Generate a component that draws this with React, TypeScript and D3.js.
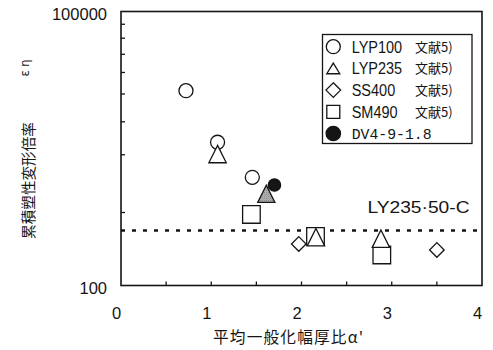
import React from "react";
import * as d3 from "d3";

// Series values: x = mean normalized width-thickness ratio, y = cumulative plastic deformation ratio
const lyp100 = [
  { x: 0.72, y: 13600 },
  { x: 1.07, y: 3700 },
  { x: 1.455, y: 1530 },
];
const lyp235 = [
  { x: 1.07, y: 2750 },
  { x: 2.16, y: 338 },
  { x: 2.88, y: 325 },
];
const lyp235Shaded = [{ x: 1.61, y: 1010 }];
const ss400 = [
  { x: 1.97, y: 285 },
  { x: 3.5, y: 245 },
];
const sm490 = [
  { x: 1.445, y: 600 },
  { x: 2.155, y: 344 },
  { x: 2.89, y: 216 },
];
const dv4 = [{ x: 1.7, y: 1260 }];

const referenceLevel = 400;
const referenceLabel = "LY235·50-C";

const xTicks = [0, 1, 2, 3, 4];
const xMinorTicks = [0.5, 1, 1.5, 2, 2.5, 3, 3.5];
const yTickLabels = [100, 100000];
const yMinorTicks = [630, 2700, 6200, 12500, 21500, 34000, 51000, 72500];

const legendNames = ["LYP100", "LYP235", "SS400", "SM490", "DV4-9-1.8"];
const legendRefs = ["文献5)", "文献5)", "文献5)", "文献5)", ""];
const legendShapes = ["circle", "triangle", "diamond", "square", "dot"];

const W = 493;
const H = 350;
const m = { left: 121, right: 482, top: 11.5, bottom: 285.5 };

const x = d3.scaleLinear().domain([0, 4]).range([m.left, m.right]);
const y = d3.scaleLog().domain([100, 100000]).range([m.bottom, m.top]);

const INK = "#151515";

function shapePath(shape: string, s: number): string {
  const p = d3.path();
  if (shape === "triangle") {
    p.moveTo(0, -s);
    p.lineTo(s, s);
    p.lineTo(-s, s);
    p.closePath();
  } else if (shape === "square") {
    p.rect(-s, -s, 2 * s, 2 * s);
  } else if (shape === "diamond") {
    p.moveTo(0, -s);
    p.lineTo(s, 0);
    p.lineTo(0, s);
    p.lineTo(-s, 0);
    p.closePath();
  } else {
    p.arc(0, 0, s, 0, Math.PI * 2);
    p.closePath();
  }
  return p.toString();
}

function Marks({
  data,
  shape,
  size,
  fill,
}: {
  data: { x: number; y: number }[];
  shape: string;
  size: number;
  fill: string;
}) {
  return (
    <g>
      {data.map((d, i) => (
        <path
          key={i}
          d={shapePath(shape, size)}
          transform={`translate(${x(d.x)},${y(d.y)})`}
          fill={fill}
          stroke={INK}
          strokeWidth={1.3}
        />
      ))}
    </g>
  );
}

export default function App() {
  const legendX = 322.5;
  const legendY = 34.5;
  const rowY = (i: number) => 46.7 + i * 21.7;
  const legendSymbolSize: Record<string, number> = {
    circle: 7,
    triangle: 6.5,
    diamond: 7.3,
    square: 6.5,
    dot: 7.2,
  };

  return (
    <svg
      width={W}
      height={H}
      style={{ position: "absolute", left: 0, top: 0, background: "#fff" }}
    >
      <defs>
        <pattern id="halftone" width={2} height={2} patternUnits="userSpaceOnUse">
          <rect width={2} height={2} fill="#e2e2e2" />
          <rect width={1} height={1} fill="#444" />
          <rect x={1} y={1} width={1} height={1} fill="#8a8a8a" />
        </pattern>
      </defs>

      {/* plot frame */}
      <rect
        x={m.left}
        y={m.top}
        width={m.right - m.left}
        height={m.bottom - m.top}
        fill="none"
        stroke={INK}
        strokeWidth={1.6}
      />

      {/* y minor ticks (inward) */}
      {yMinorTicks.map((t) => (
        <line
          key={t}
          x1={m.left}
          x2={m.left + 4}
          y1={y(t)}
          y2={y(t)}
          stroke={INK}
          strokeWidth={1.3}
        />
      ))}
      {/* x ticks (inward) */}
      {xMinorTicks.map((t) => (
        <line
          key={t}
          x1={x(t)}
          x2={x(t)}
          y1={m.bottom}
          y2={m.bottom - 4}
          stroke={INK}
          strokeWidth={1.3}
        />
      ))}

      {/* tick labels */}
      <g fontFamily="'Liberation Sans', Arial, sans-serif" fontSize={16.5} fill={INK}>
        {yTickLabels.map((t) => (
          <text key={t} x={107} y={y(t) + 8.5} textAnchor="end">
            {t}
          </text>
        ))}
        {xTicks.map((t) => (
          <text key={t} x={x(t) - 4.5} y={318.5} textAnchor="middle">
            {t}
          </text>
        ))}
      </g>

      {/* reference level */}
      <line
        x1={m.left}
        x2={m.right}
        y1={y(referenceLevel)}
        y2={y(referenceLevel)}
        stroke={INK}
        strokeWidth={2.4}
        strokeDasharray="4 7"
      />
      <text
        x={367.5}
        y={213.3}
        fontFamily="'Liberation Sans', Arial, sans-serif"
        fontSize={17}
        fill={INK}
        textLength={102}
        lengthAdjust="spacingAndGlyphs"
      >
        {referenceLabel}
      </text>

      {/* data */}
      <Marks data={lyp100} shape="circle" size={7} fill="#fff" />
      <Marks data={sm490} shape="square" size={8.8} fill="#fff" />
      <Marks data={lyp235} shape="triangle" size={8.7} fill="#fff" />
      <Marks data={lyp235Shaded} shape="triangle" size={8.6} fill="url(#halftone)" />
      <Marks data={ss400} shape="diamond" size={7.3} fill="#fff" />
      <Marks data={dv4} shape="circle" size={6.2} fill={INK} />

      {/* legend */}
      <rect
        x={legendX}
        y={legendY}
        width={149.5}
        height={109}
        fill="#fff"
        stroke={INK}
        strokeWidth={1.3}
      />
      {legendNames.map((name, i) => {
        const shape = legendShapes[i];
        const s = legendSymbolSize[shape];
        const cy = rowY(i);
        const isDot = shape === "dot";
        return (
          <g key={name}>
            <path
              d={
                shape === "triangle"
                  ? d3
                      .line()([
                        [0, -s * 0.82],
                        [s, s * 0.82],
                        [-s, s * 0.82],
                      ])!
                      .concat("Z")
                  : shapePath(isDot ? "circle" : shape, s)
              }
              transform={`translate(333.3,${cy})`}
              fill={isDot ? INK : "#fff"}
              stroke={INK}
              strokeWidth={1.3}
            />
            {isDot ? (
              <text
                x={351.7}
                y={cy + 5.9}
                fontFamily="'Liberation Mono', monospace"
                fontSize={14.8}
                fill={INK}
              >
                {name}
              </text>
            ) : (
              <text
                transform={`translate(351.7,${cy + 5.9}) scale(0.89,1)`}
                fontFamily="'Liberation Sans', Arial, sans-serif"
                fontSize={16.3}
                fill={INK}
              >
                {name}
              </text>
            )}
            {legendRefs[i] && (
              <text
                x={415}
                y={cy + 5}
                fontFamily="'Noto Sans CJK JP', sans-serif"
                fontSize={13}
                fill={INK}
              >
                {legendRefs[i]}
              </text>
            )}
          </g>
        );
      })}

      {/* axis titles */}
      <text
        transform="translate(27.5,180.5) rotate(-90)"
        textAnchor="middle"
        dominantBaseline="central"
        fontFamily="'Noto Sans CJK JP', sans-serif"
        fontSize={14.6}
        fill={INK}
      >
        累積塑性変形倍率
      </text>
      <text
        transform="translate(25,68) rotate(-90)"
        textAnchor="middle"
        dominantBaseline="central"
        fontFamily="'DejaVu Sans', sans-serif"
        fontSize={11.5}
        fill={INK}
      >
        ε η
      </text>
      <text
        x={213}
        y={343}
        fontFamily="'Noto Sans CJK JP', sans-serif"
        fontSize={15.7}
        fill={INK}
        textLength={150}
        lengthAdjust="spacing"
      >
        平均一般化幅厚比α'
      </text>
    </svg>
  );
}
